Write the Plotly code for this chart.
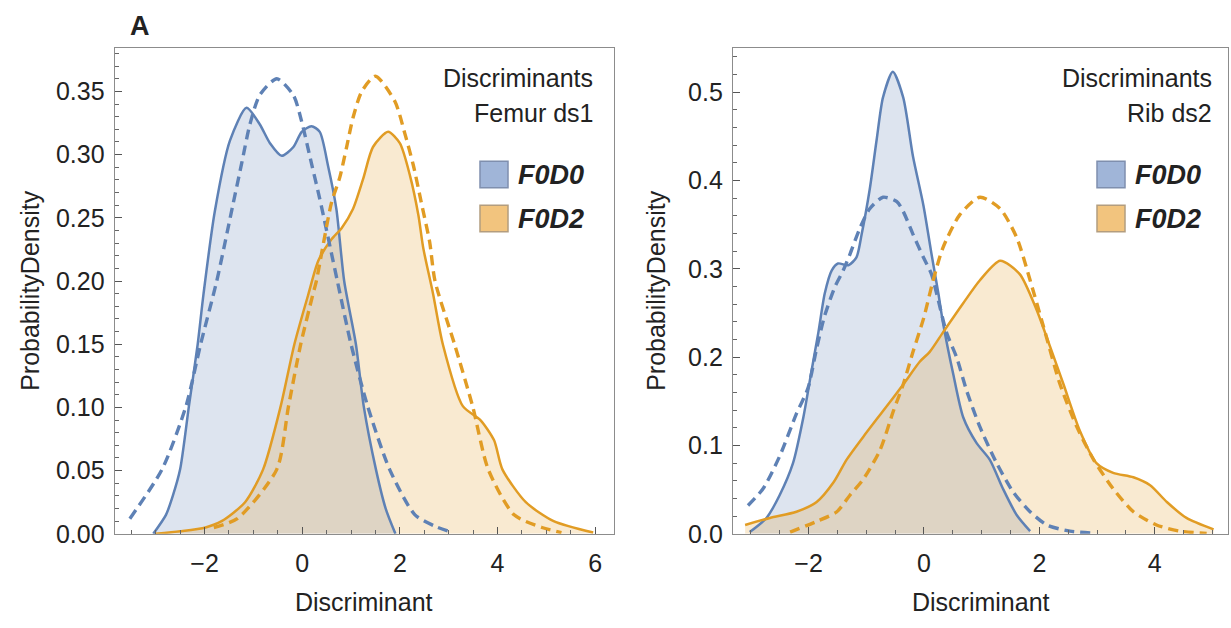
import plotly.graph_objects as go

# ---------------- data ----------------
# Panel 1: Discriminants, Femur ds1
femur_f0d0_kde_x = [-3.05, -2.79, -2.65, -2.50, -2.32, -2.14, -2.02, -1.79, -1.48, -1.14, -0.87, -0.66,
                    -0.42, -0.18, -0.01, 0.19, 0.36, 0.53, 0.70, 0.86, 1.10, 1.26, 1.51, 1.71, 1.91]
femur_f0d0_kde_y = [0.0, 0.015, 0.030, 0.051, 0.101, 0.150, 0.190, 0.255, 0.311, 0.337, 0.324, 0.309,
                    0.299, 0.306, 0.318, 0.3225, 0.318, 0.291, 0.257, 0.200, 0.150, 0.101, 0.051, 0.020, 0.0]

femur_f0d0_fit_x = [-3.53, -2.87, -2.38, -2.08, -1.75, -1.41, -1.24, -1.07, -0.87, -0.52, -0.18, -0.01,
                    0.19, 0.36, 0.72, 1.00, 1.34, 1.79, 2.31, 2.72, 3.00]
femur_f0d0_fit_y = [0.012, 0.051, 0.101, 0.150, 0.200, 0.262, 0.293, 0.324, 0.347, 0.360, 0.347, 0.326,
                    0.293, 0.265, 0.200, 0.150, 0.101, 0.051, 0.015, 0.006, 0.002]

femur_f0d2_kde_x = [-3.0, -2.5, -1.98, -1.65, -1.17, -0.80, -0.44, -0.16, 0.13, 0.33, 0.60, 0.81, 1.04,
                    1.25, 1.45, 1.76, 2.00, 2.21, 2.38, 2.48, 2.68, 2.88, 3.29, 3.65, 3.93, 4.10, 4.58,
                    5.15, 5.96]
femur_f0d2_kde_y = [0.0, 0.002, 0.005, 0.010, 0.025, 0.051, 0.101, 0.150, 0.190, 0.216, 0.233, 0.242, 0.257,
                    0.281, 0.306, 0.318, 0.309, 0.283, 0.252, 0.226, 0.190, 0.150, 0.101, 0.090, 0.074,
                    0.051, 0.025, 0.010, 0.001]

femur_f0d2_fit_x = [-1.81, -1.33, -0.52, -0.28, -0.03, 0.21, 0.29, 0.60, 0.77, 0.91, 1.04, 1.22, 1.50,
                    1.90, 2.10, 2.28, 2.44, 2.61, 2.72, 3.12, 3.49, 3.81, 4.34, 4.91, 5.31]
femur_f0d2_fit_y = [0.005, 0.012, 0.051, 0.101, 0.150, 0.188, 0.200, 0.262, 0.282, 0.306, 0.329, 0.350,
                    0.362, 0.342, 0.317, 0.291, 0.262, 0.231, 0.200, 0.150, 0.101, 0.051, 0.015, 0.005, 0.001]

# Panel 2: Discriminants, Rib ds2
rib_f0d0_kde_x = [-3.02, -2.73, -2.50, -2.27, -2.09, -1.95, -1.83, -1.72, -1.60, -1.49, -1.31, -1.17,
                  -1.08, -0.94, -0.82, -0.71, -0.54, -0.36, -0.19, -0.01, 0.13, 0.25, 0.33, 0.51, 0.68,
                  0.91, 1.14, 1.37, 1.61, 1.84]
rib_f0d0_kde_y = [0.002, 0.018, 0.044, 0.080, 0.132, 0.184, 0.228, 0.272, 0.298, 0.306, 0.304, 0.313,
                  0.339, 0.390, 0.446, 0.494, 0.523, 0.494, 0.427, 0.372, 0.317, 0.272, 0.239, 0.180,
                  0.132, 0.103, 0.084, 0.051, 0.021, 0.003]

rib_f0d0_fit_x = [-3.05, -2.79, -2.50, -2.21, -2.01, -1.86, -1.72, -1.54, -1.40, -1.28, -1.11, -0.94,
                  -0.71, -0.47, -0.36, -0.19, -0.01, 0.13, 0.22, 0.39, 0.57, 0.74, 0.97, 1.26, 1.55,
                  1.84, 2.13, 2.53, 2.9]
rib_f0d0_fit_y = [0.032, 0.051, 0.088, 0.136, 0.165, 0.210, 0.247, 0.280, 0.298, 0.317, 0.346, 0.368,
                  0.381, 0.376, 0.365, 0.339, 0.313, 0.294, 0.272, 0.228, 0.199, 0.162, 0.121, 0.080,
                  0.047, 0.025, 0.010, 0.003, 0.001]

rib_f0d2_kde_x = [-3.10, -2.67, -2.21, -1.86, -1.57, -1.34, -1.05, -0.71, -0.36, -0.07, 0.10, 0.33,
                  0.68, 0.97, 1.32, 1.66, 1.95, 2.18, 2.42, 2.70, 2.99, 3.28, 3.63, 3.92, 4.21, 4.55, 5.02]
rib_f0d2_kde_y = [0.010, 0.018, 0.025, 0.036, 0.058, 0.084, 0.110, 0.139, 0.169, 0.195, 0.206, 0.228,
                  0.261, 0.287, 0.309, 0.294, 0.254, 0.213, 0.169, 0.117, 0.080, 0.069, 0.064, 0.055,
                  0.036, 0.018, 0.005]

rib_f0d2_fit_x = [-2.32, -1.86, -1.51, -1.28, -1.05, -0.76, -0.53, -0.36, -0.19, -0.01, 0.16, 0.33,
                  0.62, 0.97, 1.32, 1.61, 1.84, 2.07, 2.36, 2.65, 2.94, 3.28, 3.63, 4.03, 4.44, 4.90]
rib_f0d2_fit_y = [0.002, 0.014, 0.025, 0.044, 0.062, 0.095, 0.139, 0.169, 0.206, 0.243, 0.287, 0.324,
                  0.361, 0.381, 0.368, 0.335, 0.287, 0.235, 0.169, 0.121, 0.084, 0.051, 0.025, 0.010,
                  0.003, 0.0005]

series_names = ["F0D0", "F0D2"]
panel_titles = [["Discriminants", "Femur ds1"], ["Discriminants", "Rib ds2"]]
x_ticks_1 = [-2, 0, 2, 4, 6]
x_ticktext_1 = ["\u22122", "0", "2", "4", "6"]
y_ticks_1 = [0.0, 0.05, 0.10, 0.15, 0.20, 0.25, 0.30, 0.35]
y_ticktext_1 = ["0.00", "0.05", "0.10", "0.15", "0.20", "0.25", "0.30", "0.35"]
x_ticks_2 = [-2, 0, 2, 4]
x_ticktext_2 = ["\u22122", "0", "2", "4"]
y_ticks_2 = [0.0, 0.1, 0.2, 0.3, 0.4, 0.5]
y_ticktext_2 = ["0.0", "0.1", "0.2", "0.3", "0.4", "0.5"]

# ---------------- styling ----------------
W, H = 1231, 628
BLUE = "#5E81B5"
ORANGE = "#E19C24"
BLUE_FILL = "rgba(94,129,181,0.21)"
ORANGE_FILL = "rgba(225,156,36,0.21)"
FONT = "Liberation Sans, Arial, sans-serif"
TXT = "#222222"
FRAME = "#8c8c8c"
SPL = dict(shape="spline", smoothing=0.7)


def px_x(p):
    return p / W


def px_y(p):
    return 1 - p / H


fig = go.Figure()

panels = [
    dict(xa="x", ya="y",
         kde0=(femur_f0d0_kde_x, femur_f0d0_kde_y), fit0=(femur_f0d0_fit_x, femur_f0d0_fit_y),
         kde2=(femur_f0d2_kde_x, femur_f0d2_kde_y), fit2=(femur_f0d2_fit_x, femur_f0d2_fit_y)),
    dict(xa="x2", ya="y2",
         kde0=(rib_f0d0_kde_x, rib_f0d0_kde_y), fit0=(rib_f0d0_fit_x, rib_f0d0_fit_y),
         kde2=(rib_f0d2_kde_x, rib_f0d2_kde_y), fit2=(rib_f0d2_fit_x, rib_f0d2_fit_y)),
]

for p in panels:
    # filled areas first
    for key, fc in (("kde0", BLUE_FILL), ("kde2", ORANGE_FILL)):
        fig.add_trace(go.Scatter(x=p[key][0], y=p[key][1], xaxis=p["xa"], yaxis=p["ya"], mode="lines",
                                 line=dict(width=0, **SPL), fill="tozeroy", fillcolor=fc,
                                 showlegend=False, hoverinfo="skip"))
    # solid KDE lines
    for key, col in (("kde0", BLUE), ("kde2", ORANGE)):
        fig.add_trace(go.Scatter(x=p[key][0], y=p[key][1], xaxis=p["xa"], yaxis=p["ya"], mode="lines",
                                 line=dict(color=col, width=2.5, **SPL),
                                 showlegend=False, hoverinfo="skip"))
    # dashed fitted lines
    for key, col in (("fit0", BLUE), ("fit2", ORANGE)):
        fig.add_trace(go.Scatter(x=p[key][0], y=p[key][1], xaxis=p["xa"], yaxis=p["ya"], mode="lines",
                                 line=dict(color=col, width=3.4, dash="10px,6px", **SPL),
                                 showlegend=False, hoverinfo="skip"))

axis_common = dict(showgrid=False, zeroline=False, showline=True, mirror=True, linecolor=FRAME, linewidth=1.3,
                   ticks="inside", ticklen=7, tickwidth=1, tickcolor="#555555",
                   tickfont=dict(family=FONT, size=25, color=TXT))


def minor(dt):
    return dict(ticks="inside", ticklen=4, tickcolor="#666666", tickwidth=1, dtick=dt, tick0=0)


fig.update_layout(
    width=W, height=H, margin=dict(l=0, r=0, t=0, b=0),
    paper_bgcolor="white", plot_bgcolor="white",
    xaxis=dict(domain=[px_x(114.7), px_x(613.7)], range=[-3.84, 6.38], tickvals=x_ticks_1,
               ticktext=x_ticktext_1, anchor="y", ticklabelstandoff=7, minor=minor(0.5), **axis_common),
    yaxis=dict(domain=[px_y(546), px_y(49)], range=[0, 0.3844], tickvals=y_ticks_1, ticktext=y_ticktext_1,
               anchor="x", ticklabelstandoff=4, minor=minor(0.01), **axis_common),
    xaxis2=dict(domain=[px_x(733), px_x(1228)], range=[-3.31, 5.27], tickvals=x_ticks_2,
                ticktext=x_ticktext_2, anchor="y2", ticklabelstandoff=7, minor=minor(0.5), **axis_common),
    yaxis2=dict(domain=[px_y(546), px_y(49)], range=[0, 0.550], tickvals=y_ticks_2, ticktext=y_ticktext_2,
                anchor="x2", ticklabelstandoff=4, minor=minor(0.02), **axis_common),
)

ann = []


def text(x, y, s, size=25, xanchor="center", bold=False, italic=False, angle=0):
    ann.append(dict(xref="paper", yref="paper", x=px_x(x), y=px_y(y), text=s, showarrow=False,
                    xanchor=xanchor, yanchor="middle", textangle=angle,
                    font=dict(family=FONT, size=size, color=TXT,
                              style="italic" if italic else "normal",
                              weight="bold" if bold else "normal")))


text(140, 27, "A", size=27, bold=True)

right_edges = [595, 1214]
swatch_x = [480, 1097]
for i in range(2):
    text(right_edges[i], 80, panel_titles[i][0], xanchor="right")
    text(right_edges[i], 116, panel_titles[i][1], xanchor="right")
    text(swatch_x[i] + 36, 179, series_names[0], size=27, xanchor="left", bold=True, italic=True)
    text(swatch_x[i] + 36, 224, series_names[1], size=27, xanchor="left", bold=True, italic=True)

# axis titles
text(30, 297.5, "ProbabilityDensity", angle=-90)
text(656, 297.5, "ProbabilityDensity", angle=-90)
text(364, 616, "Discriminant")
text(980.5, 616, "Discriminant")

fig.update_layout(annotations=ann)

shapes = []
for sx in swatch_x:
    shapes.append(dict(type="rect", xref="paper", yref="paper",
                       x0=px_x(sx), x1=px_x(sx + 28), y0=px_y(192), y1=px_y(165),
                       fillcolor="#A0B5D8", line=dict(color="#7F8FAE", width=1.5)))
    shapes.append(dict(type="rect", xref="paper", yref="paper",
                       x0=px_x(sx), x1=px_x(sx + 28), y0=px_y(237), y1=px_y(210),
                       fillcolor="#F2C47E", line=dict(color="#B39D7F", width=1.5)))
fig.update_layout(shapes=shapes)

fig.write_html("out.html")
